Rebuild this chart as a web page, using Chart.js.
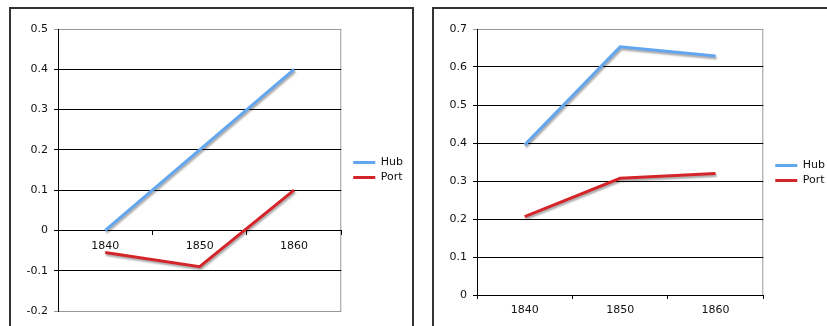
<!DOCTYPE html>
<html>
<head>
<meta charset="utf-8">
<script src="https://cdn.jsdelivr.net/npm/chart.js@4"></script>
<style>
  body { margin: 0; background: #fff; width: 827px; height: 326px; overflow: hidden; position: relative; }
  .frame { position: absolute; border: 2px solid #333; box-sizing: border-box; }
  canvas { position: absolute; }
</style>
</head>
<body>
<div class="frame" style="left:9px; top:7px; width:405px; height:400px;"></div>
<div class="frame" style="left:432px; top:7px; width:420px; height:400px;"></div>
<canvas id="chartLeft" width="398" height="316" style="left:12px; top:10px;"></canvas>
<canvas id="chartRight" width="391" height="316" style="left:436px; top:10px;"></canvas>
<script>
const years = ["1840", "1850", "1860"];
const hubLeft = [0, 0.2, 0.4];
const portLeft = [-0.055, -0.09, 0.1];
const hubRight = [0.395, 0.653, 0.629];
const portRight = [0.206, 0.307, 0.32];
const hubColor = "#62a6ef";
const portColor = "#d4252b";

// drop shadow under the lines, like the old Excel chart
const lineShadow = {
  id: "lineShadow",
  beforeDatasetDraw(chart) {
    const c = chart.ctx;
    c.save();
    c.shadowColor = "rgba(0,0,0,0.35)";
    c.shadowBlur = 2;
    c.shadowOffsetX = 1;
    c.shadowOffsetY = 2;
  },
  afterDatasetDraw(chart) {
    chart.ctx.restore();
  }
};

// gray border round the plot area
const areaBorder = {
  id: "areaBorder",
  beforeDraw(chart) {
    const { ctx, chartArea: a } = chart;
    ctx.save();
    ctx.strokeStyle = "#999";
    ctx.lineWidth = 1;
    ctx.strokeRect(a.left + 0.5, a.top + 0.5, a.width - 1, a.height);
    ctx.restore();
  }
};

// push the legend a bit away from the plot
const legendGap = {
  id: "legendGap",
  afterLayout(chart) {
    chart.legend.left += 8;
    chart.legend.right += 8;
  }
};

function makeChart(id, hub, port, yMin, yMax, yWidth, xAtZero, pad) {
  const tickFont = { family: "DejaVu Sans", size: 11 };
  return new Chart(document.getElementById(id), {
    type: "line",
    data: {
      labels: years,
      datasets: [
        { label: "Hub", data: hub, borderColor: hubColor, backgroundColor: hubColor, borderWidth: 3, pointRadius: 0, tension: 0 },
        { label: "Port", data: port, borderColor: portColor, backgroundColor: portColor, borderWidth: 3, pointRadius: 0, tension: 0 }
      ]
    },
    options: {
      responsive: false,
      animation: false,
      layout: { padding: pad },
      plugins: {
        tooltip: { enabled: false },
        legend: {
          position: "right",
          labels: {
            boxWidth: 22,
            boxHeight: 3,
            padding: 4,
            color: "#111",
            font: tickFont,
            generateLabels: chart => chart.data.datasets.map((ds, i) => ({
              text: ds.label, fillStyle: ds.borderColor, strokeStyle: ds.borderColor, lineWidth: 0, datasetIndex: i, fontColor: "#111"
            }))
          }
        }
      },
      scales: {
        x: {
          position: xAtZero ? { y: 0 } : "bottom",
          offset: true,
          afterFit: s => { s.height = xAtZero ? 0 : 22; },
          grid: { drawOnChartArea: false, offset: true, tickLength: 4, color: "#000" },
          border: { color: "#000", width: 1 },
          ticks: { color: "#111", font: tickFont, padding: 5, maxRotation: 0 }
        },
        y: {
          min: yMin,
          max: yMax,
          afterFit: s => { s.width = yWidth; },
          grid: {
            tickLength: 4,
            color: c => {
              if (c.index === c.scale.ticks.length - 1) return "#999";
              if (xAtZero && c.index === 0) return "#999";
              return "#000";
            }
          },
          border: { color: "#000", width: 1 },
          ticks: {
            stepSize: 0.1,
            color: "#111",
            font: tickFont,
            padding: 6,
            callback: v => String(+v.toFixed(1))
          }
        }
      }
    },
    plugins: [areaBorder, lineShadow, legendGap]
  });
}

makeChart("chartLeft", hubLeft, portLeft, -0.2, 0.5, 46, true, { top: 19, bottom: 15, left: 0, right: 5 });
makeChart("chartRight", hubRight, portRight, 0, 0.7, 41, false, { top: 19, bottom: 9, left: 0, right: 0 });
</script>
</body>
</html>
